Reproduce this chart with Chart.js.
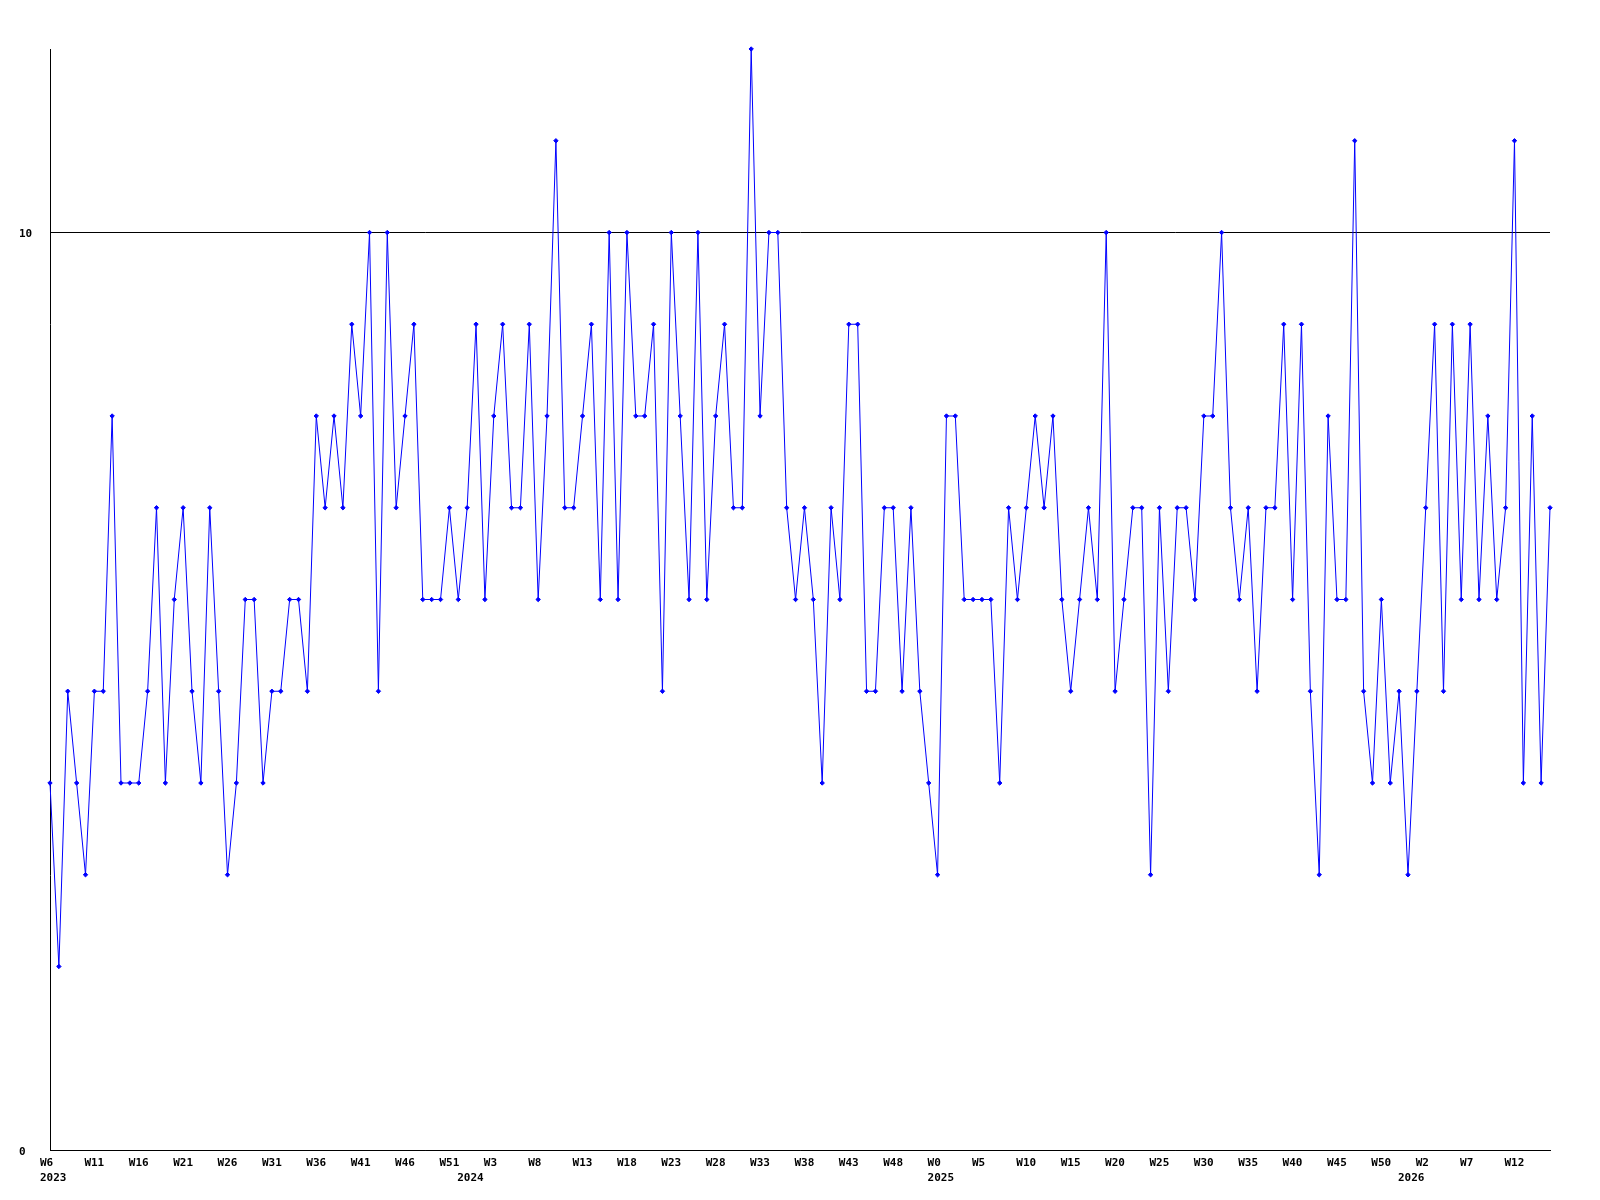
<!DOCTYPE html>
<html>
<head>
<meta charset="utf-8">
<script src="https://cdn.jsdelivr.net/npm/chart.js@4.4.1/dist/chart.umd.min.js"></script>
<style>
  html, body { margin: 0; padding: 0; background: #ffffff; }
  canvas { display: block; }
</style>
</head>
<body>
<canvas id="c" width="1600" height="1200"></canvas>
<script>
// Categories: one per weekly point ("year-week")
const categories = [
  '2023-W6','2023-W7','2023-W8','2023-W9','2023-W10','2023-W11','2023-W12','2023-W13','2023-W14','2023-W15',
  '2023-W16','2023-W17','2023-W18','2023-W19','2023-W20','2023-W21','2023-W22','2023-W23','2023-W24','2023-W25',
  '2023-W26','2023-W27','2023-W28','2023-W29','2023-W30','2023-W31','2023-W32','2023-W33','2023-W34','2023-W35',
  '2023-W36','2023-W37','2023-W38','2023-W39','2023-W40','2023-W41','2023-W42','2023-W43','2023-W44','2023-W45',
  '2023-W46','2023-W47','2023-W48','2023-W49','2023-W50','2023-W51','2023-W52',
  '2024-W0','2024-W1','2024-W2','2024-W3','2024-W4','2024-W5','2024-W6','2024-W7','2024-W8','2024-W9',
  '2024-W10','2024-W11','2024-W12','2024-W13','2024-W14','2024-W15','2024-W16','2024-W17','2024-W18','2024-W19',
  '2024-W20','2024-W21','2024-W22','2024-W23','2024-W24','2024-W25','2024-W26','2024-W27','2024-W28','2024-W29',
  '2024-W30','2024-W31','2024-W32','2024-W33','2024-W34','2024-W35','2024-W36','2024-W37','2024-W38','2024-W39',
  '2024-W40','2024-W41','2024-W42','2024-W43','2024-W44','2024-W45','2024-W46','2024-W47','2024-W48','2024-W49',
  '2024-W50','2024-W51','2024-W52',
  '2025-W0','2025-W1','2025-W2','2025-W3','2025-W4','2025-W5','2025-W6','2025-W7','2025-W8','2025-W9',
  '2025-W10','2025-W11','2025-W12','2025-W13','2025-W14','2025-W15','2025-W16','2025-W17','2025-W18','2025-W19',
  '2025-W20','2025-W21','2025-W22','2025-W23','2025-W24','2025-W25','2025-W26','2025-W27','2025-W28','2025-W29',
  '2025-W30','2025-W31','2025-W32','2025-W33','2025-W34','2025-W35','2025-W36','2025-W37','2025-W38','2025-W39',
  '2025-W40','2025-W41','2025-W42','2025-W43','2025-W44','2025-W45','2025-W46','2025-W47','2025-W48','2025-W49',
  '2025-W50','2025-W51','2025-W52',
  '2026-W0','2026-W1','2026-W2','2026-W3','2026-W4','2026-W5','2026-W6','2026-W7','2026-W8','2026-W9',
  '2026-W10','2026-W11','2026-W12','2026-W13','2026-W14','2026-W15','2026-W16'
];

// Series values (weekly counts)
const values = [
  4,2,5,4,3,5,5,8,4,4,4,5,7,4,6,7,5,4,7,5,3,4,
  6,6,4,5,5,6,6,5,8,7,8,7,9,8,10,5,10,7,8,9,6,
  6,6,7,6,7,9,6,8,9,7,7,9,6,8,11,7,7,8,9,6,10,6,
  10,8,8,9,5,10,8,6,10,6,8,9,7,7,12,8,10,10,7,6,7,
  6,4,7,6,9,9,5,5,7,7,5,7,5,4,3,8,8,6,6,6,6,4,
  7,6,7,8,7,8,6,5,6,7,6,10,5,6,7,7,3,7,5,7,7,
  6,8,8,10,7,6,7,5,7,7,9,6,9,5,3,8,6,6,11,5,4,6,
  4,5,3,5,7,9,5,9,6,9,6,8,6,7,11,4,8,4,7
];

// Tick labels
const weekTickLabels = ['W6','W11','W16','W21','W26','W31','W36','W41','W46','W51',
  'W3','W8','W13','W18','W23','W28','W33','W38','W43','W48',
  'W0','W5','W10','W15','W20','W25','W30','W35','W40','W45',
  'W50','W2','W7','W12'];
const yearTickLabels = ['2023','2024','2025','2026'];
const yTickValues = [0, 10];
const yMin = 0, yMax = 12;

const monoFont = "'DejaVu Sans Mono', 'Liberation Mono', monospace";

function xTickLabel(idx) {
  const cat = categories[idx];
  if (cat === undefined) return '';
  const parts = cat.split('-');
  const year = parts[0], week = parts[1];
  const showWeek = weekTickLabels.includes(week) && (idx % 5 === 0);
  const showYear = yearTickLabels.includes(year) && (idx === 0 || week === 'W0');
  if (!showWeek && !showYear) return '';
  return [showWeek ? week : '', showYear ? year : ''];
}

new Chart(document.getElementById('c'), {
  type: 'line',
  data: {
    labels: categories,
    datasets: [{
      data: values,
      borderColor: '#0000ff',
      borderWidth: 1,
      backgroundColor: '#0000ff',
      fill: false,
      tension: 0,
      clip: false,
      pointStyle: 'rectRot',
      pointRadius: 2.2,
      pointBorderWidth: 1,
      pointBorderColor: '#0000ff',
      pointBackgroundColor: '#0000ff',
      pointHoverRadius: 2.2
    }]
  },
  options: {
    responsive: false,
    animation: false,
    events: [],
    layout: { padding: { left: 19, right: 50, top: 49, bottom: 0 } },
    plugins: {
      legend: { display: false },
      tooltip: { enabled: false },
      title: { display: false }
    },
    scales: {
      x: {
        type: 'category',
        offset: false,
        grid: { display: true, color: 'rgba(0,0,0,0)', drawTicks: false },
        border: { display: true, color: '#000000', width: 1 },
        afterFit: (s) => { s.height = 50; },
        ticks: {
          autoSkip: false,
          maxRotation: 0,
          minRotation: 0,
          align: 'start',
          labelOffset: -10,
          padding: 6,
          color: '#000000',
          font: { family: monoFont, size: 11, weight: 'bold', lineHeight: '15px' },
          callback: function(value, index) { return xTickLabel(index); }
        }
      },
      y: {
        type: 'linear',
        min: yMin,
        max: yMax,
        afterBuildTicks: (s) => { s.ticks = yTickValues.map(v => ({ value: v })); },
        afterFit: (s) => { s.width = 31; },
        grid: { display: true, color: '#000000', lineWidth: 1, drawTicks: false },
        border: { display: true, color: '#000000', width: 1 },
        ticks: {
          crossAlign: 'far',
          padding: 0,
          labelOffset: 2,
          color: '#000000',
          font: { family: monoFont, size: 11, weight: 'bold' }
        }
      }
    }
  }
});
</script>
</body>
</html>
